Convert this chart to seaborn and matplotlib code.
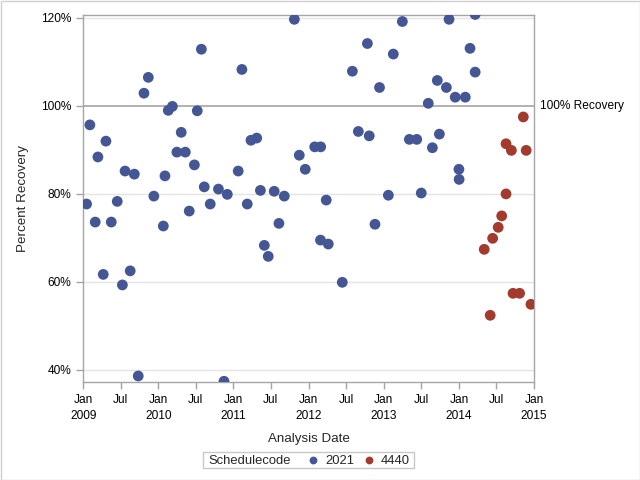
import matplotlib
matplotlib.use("Agg")
import matplotlib.pyplot as plt
from matplotlib.lines import Line2D
from matplotlib.patches import Rectangle
import matplotlib.transforms as mtrans
import pandas as pd
import seaborn as sns

# ---- data ----
dates_2021 = [
    "2009-01-17", "2009-02-02", "2009-02-28", "2009-03-13", "2009-04-08", "2009-04-21",
    "2009-05-17", "2009-06-15", "2009-07-10", "2009-07-23", "2009-08-17", "2009-09-06",
    "2009-09-25", "2009-10-23", "2009-11-13", "2009-12-10", "2010-01-25", "2010-02-02",
    "2010-02-18", "2010-03-10", "2010-04-01", "2010-04-22", "2010-05-12", "2010-05-31",
    "2010-06-25", "2010-07-09", "2010-07-29", "2010-08-12", "2010-09-10", "2010-10-20",
    "2010-11-16", "2010-12-02", "2011-01-24", "2011-02-11", "2011-03-09", "2011-03-27",
    "2011-04-24", "2011-05-12", "2011-05-31", "2011-06-19", "2011-07-18", "2011-08-10",
    "2011-09-05", "2011-10-24", "2011-11-17", "2011-12-16", "2012-01-31", "2012-02-28",
    "2012-02-29", "2012-03-27", "2012-04-06", "2012-06-13", "2012-08-01", "2012-08-30",
    "2012-10-13", "2012-10-22", "2012-11-19", "2012-12-11", "2013-01-23", "2013-02-16",
    "2013-04-01", "2013-05-05", "2013-06-10", "2013-07-02", "2013-08-05", "2013-08-25",
    "2013-09-18", "2013-09-28", "2013-11-01", "2013-11-14", "2013-12-14", "2014-01-01",
    "2014-01-02", "2014-02-01", "2014-02-24", "2014-03-21", "2014-03-21",
]
recovery_2021 = [
    77.7, 95.7, 73.6, 88.4, 61.7, 92.0,
    73.6, 78.3, 59.3, 85.2, 62.5, 84.5,
    38.6, 102.9, 106.5, 79.5, 72.7, 84.1,
    99.0, 99.9, 89.5, 94.0, 89.5, 76.1,
    86.6, 98.9, 112.9, 81.6, 77.7, 81.1,
    37.4, 79.9, 85.2, 108.3, 77.7, 92.2,
    92.7, 80.8, 68.3, 65.8, 80.6, 73.3,
    79.5, 119.7, 88.8, 85.6, 90.7, 69.5,
    90.7, 78.6, 68.6, 59.9, 107.9, 94.2,
    114.2, 93.2, 73.1, 104.2, 79.7, 111.8,
    119.2, 92.4, 92.4, 80.2, 100.6, 90.5,
    105.8, 93.6, 104.2, 119.7, 102.0, 85.6,
    83.3, 102.0, 113.1, 120.8, 107.7,
]
dates_4440 = [
    "2014-05-04", "2014-06-02", "2014-06-14", "2014-07-11", "2014-07-28", "2014-08-18",
    "2014-08-18", "2014-09-13", "2014-09-21", "2014-10-23", "2014-11-10", "2014-11-24",
    "2014-12-17",
]
recovery_4440 = [
    67.4, 52.4, 69.9, 72.4, 75.0, 91.4,
    80.0, 89.9, 57.4, 57.4, 97.5, 89.9,
    54.9,
]
codes = ["2021", "4440"]
colors = ["#445694", "#A23A2E"]
y_ticks = [40, 60, 80, 100, 120]
ref_value = 100
ref_label = "100% Recovery"
legend_title = "Schedulecode"

df = pd.DataFrame({
    "Analysis Date": pd.to_datetime(dates_2021 + dates_4440),
    "Percent Recovery": recovery_2021 + recovery_4440,
    "Schedulecode": [codes[0]] * len(dates_2021) + [codes[1]] * len(dates_4440),
})

sns.set_style("white")
plt.rcParams["font.family"] = ["Liberation Sans", "DejaVu Sans"]

W, H = 640, 480
fig = plt.figure(figsize=(6.4, 4.8), dpi=100)
ax = fig.add_axes([83.3 / W, 1 - 381.7 / H, (534 - 83.3) / W, (381.7 - 14.7) / H])

frame_col = "#A5A5A5"
grid_col = "#E4E4E4"

for v in y_ticks:
    if v != ref_value:
        ax.axhline(v, color=grid_col, lw=1, zorder=0)
ax.axhline(ref_value, color="#9C9C9C", lw=1.1, zorder=1)

sns.scatterplot(data=df, x="Analysis Date", y="Percent Recovery", hue="Schedulecode",
                hue_order=codes, palette=colors, s=60, linewidth=0, ax=ax,
                legend=False, zorder=3)

ax.set_xlim(pd.Timestamp("2009-01-01"), pd.Timestamp("2015-01-01"))
ax.set_ylim(37.3, 120.75)
ax.set_yticks(y_ticks)
ax.set_yticklabels([f"{v}%" for v in y_ticks])

ticks = pd.date_range("2009-01-01", "2015-01-01", freq="6MS")
ax.set_xticks(ticks)
ax.set_xticklabels([f"Jan\n{t.year}" if t.month == 1 else "Jul" for t in ticks],
                   linespacing=1.45)

for s in ax.spines.values():
    s.set_color(frame_col)
    s.set_linewidth(1)
ax.tick_params(axis="both", which="major", length=5, width=1, color=frame_col,
               labelsize=8.6, labelcolor="black", pad=3.5, direction="out")
ax.tick_params(axis="both", bottom=True, left=True)

ax.set_xlabel("Analysis Date", fontsize=9.6, labelpad=8)
ax.set_ylabel("Percent Recovery", fontsize=9.6, labelpad=9)

trans = mtrans.blended_transform_factory(ax.transAxes, ax.transData)
ax.text(1.013, ref_value, ref_label, transform=trans, va="center", ha="left",
        fontsize=8.6, color="black")

# ---- legend (drawn as a SAS-style inline box) ----
fig.patches.append(Rectangle((203 / W, 1 - 468 / H), (414 - 203) / W, 16 / H,
                             transform=fig.transFigure, fill=True, facecolor="white",
                             edgecolor="#C8C8C8", lw=1))
ly = 1 - 460 / H
lb = 1 - 464 / H
fig.text(208 / W, lb, legend_title, fontsize=9.4, va="baseline", ha="left")
for c, col, mx, tx in zip(codes, colors, [313, 369], [325, 381]):
    fig.add_artist(Line2D([mx / W], [ly], transform=fig.transFigure, linestyle="none",
                          marker="o", markersize=5.6, markerfacecolor=col,
                          markeredgewidth=0))
    fig.text(tx / W, lb, c, fontsize=9.4, va="baseline", ha="left")

fig.patches.append(Rectangle((0.5 / W, 0.5 / H), 1 - 1 / W, 1 - 1 / H,
                             transform=fig.transFigure, fill=False,
                             edgecolor="#D0D0D0", lw=1))

fig.savefig("out.png", dpi=100)
